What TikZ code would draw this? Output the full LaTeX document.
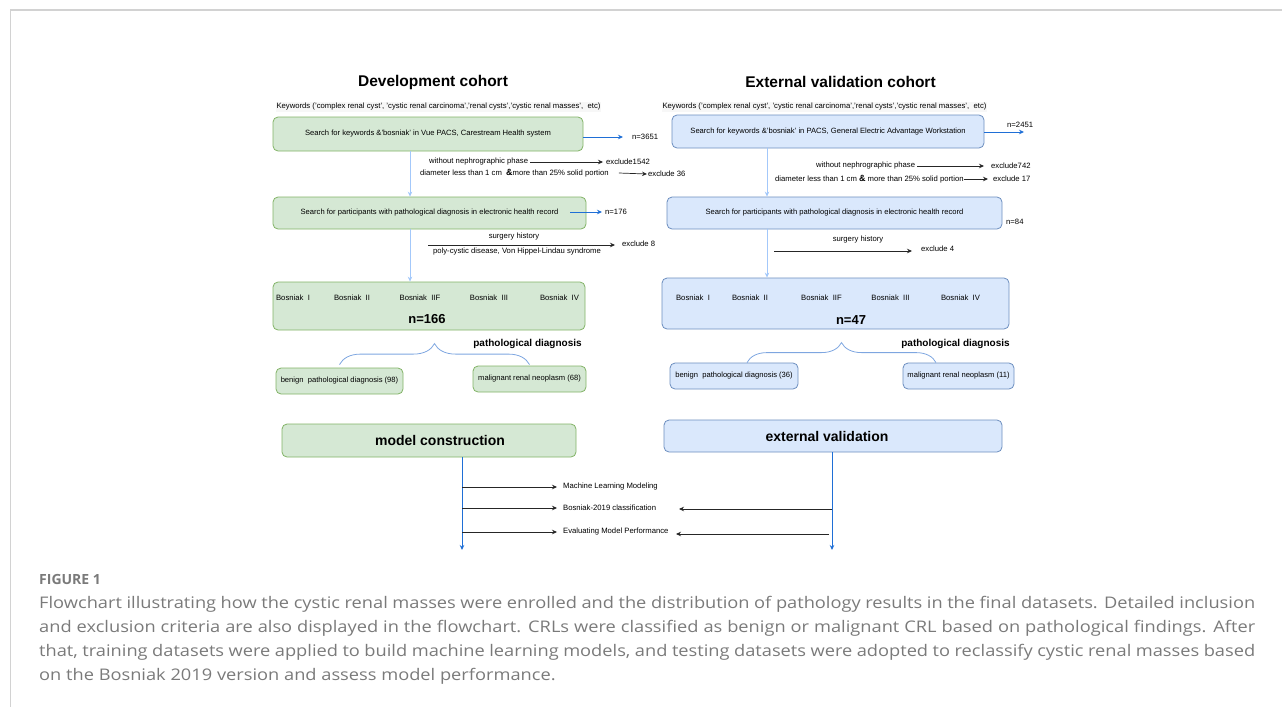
\documentclass[tikz,border=0pt]{standalone}
\usepackage{fontspec}
\setmainfont{Liberation Sans}
\newfontfamily\capfont[FakeStretch=1.14]{Open Sans}
\newfontfamily\capheadfont{Open Sans}
\usetikzlibrary{arrows.meta,decorations.pathreplacing}

\definecolor{devfill}{HTML}{D5E8D4}
\definecolor{devline}{HTML}{82B366}
\definecolor{extfill}{HTML}{DAE8FC}
\definecolor{extline}{HTML}{6C8EBF}
\definecolor{stepblue}{HTML}{A3C8FA}
\definecolor{countblue}{HTML}{1F6FD6}
\definecolor{bracecol}{HTML}{7EA6E0}
\definecolor{capgray}{HTML}{7A7A7A}
\definecolor{framegray}{HTML}{D2D2D2}

\begin{document}
\begin{tikzpicture}[x=1pt,y=-1pt,
    devbox/.style={draw=devline,fill=devfill,rounded corners=5pt,line width=0.8pt,inner sep=0pt,font=\fontsize{7.6}{9}\selectfont},
    extbox/.style={draw=extline,fill=extfill,rounded corners=5pt,line width=0.8pt,inner sep=0pt,font=\fontsize{7.6}{9}\selectfont},
    lbl/.style={inner sep=0pt,font=\fontsize{7.7}{9}\selectfont},
    ttl/.style={inner sep=0pt,font=\fontsize{15.5}{18}\selectfont\bfseries},
    total/.style={inner sep=0pt,font=\fontsize{13}{15}\selectfont\bfseries},
    patho/.style={inner sep=0pt,font=\fontsize{10}{12}\selectfont\bfseries},
    flowarr/.style={draw=stepblue,line width=0.8pt,-{Stealth[length=5pt,width=4.5pt]}},
    countarr/.style={draw=countblue,line width=0.8pt,-{Stealth[length=5pt,width=4.5pt]}},
    exclarr/.style={draw=black!85,line width=0.7pt,-{Stealth[length=5pt,width=4.5pt]}},
    brc/.style={draw=bracecol,line width=0.8pt,decorate}]
    \useasboundingbox (0,0) rectangle (1282,707);

    % frame of the figure
    \draw[framegray,line width=1.6pt] (10,10) -- (1282,10);
    \draw[framegray,line width=0.8pt] (10,10) -- (10,707);

    % Development cohort (left)
    \node[ttl] (devTitle) at (433,82) {Development cohort};
    \node[lbl,fill=black!3,inner sep=1pt,font=\fontsize{7.7}{8}\selectfont] (devKey) at (438.5,107) {Keywords ('complex renal cyst', 'cystic renal carcinoma','renal cysts','cystic renal masses',\ \ etc)};
    \node[devbox,minimum width=310pt,minimum height=34pt] (devA) at (428,134) {Search for keywords \&'bosniak' in Vue PACS, Carestream Health system};
    \node[lbl,anchor=west] (devAn) at (632,137) {n=3651};
    \draw[countarr] (devA.east |- devAn.west) -- ([xshift=-9pt]devAn.west);

    \node[lbl,anchor=west] (devW) at (429,162) {without nephrographic phase};
    \node[lbl,anchor=west] (devWx) at (606,162) {exclude1542};
    \draw[exclarr] ([xshift=2pt]devW.east) -- ([xshift=-3pt]devWx.west);
    \node[lbl,anchor=west] (devDm) at (420,173) {diameter less than 1 cm\ \ {\fontsize{9}{9}\selectfont\bfseries\&}more than 25\% solid portion};
    \node[lbl,anchor=west] (devDx) at (648,174) {exclude 36};
    \draw[exclarr] ([xshift=10pt]devDm.east) -- ([xshift=-1pt]devDx.west);

    \node[devbox,minimum width=313pt,minimum height=32pt] (devB) at (429.5,213) {Search for participants with pathological diagnosis in electronic health record};
    \node[lbl,anchor=west] (devBn) at (605,212) {n=176};
    \draw[countarr] ([xshift=-16pt]devB.east |- devBn.west) -- ([xshift=-3pt]devBn.west);

    \node[lbl] (devSh) at (514,237) {surgery history};
    \node[lbl] (devPc) at (517,252) {poly-cystic disease, Von Hippel-Lindau syndrome};
    \node[lbl,anchor=west] (devSx) at (622,244) {exclude 8};
    \coordinate (devSfrom) at (428,245);
    \draw[exclarr] (devSfrom) -- ([xshift=-7pt]devSfrom -| devSx.west);

    \node[devbox,minimum width=312pt,minimum height=48pt] (devC) at (429,306) {};
    \foreach \bx/\bt [count=\i] in {293/I,352/II,420/IIF,489/III,559.5/IV}
        \node[lbl] (devK\i) at (\bx,298) {Bosniak\ \ \bt};
    \node[total] (devTot) at (427,319) {n=166};

    \coordinate (devAxis) at (410,0);
    \draw[flowarr] (devA.south -| devAxis) -- (devB.north -| devAxis);
    \draw[flowarr] (devB.south -| devAxis) -- (devC.north -| devAxis);

    \node[patho] (devPd) at (527.5,344) {pathological diagnosis};
    \node[devbox,minimum width=127pt,minimum height=26pt] (devBen) at (339.5,381) {benign\ \ pathological diagnosis (98)};
    \node[devbox,minimum width=113pt,minimum height=26pt] (devMal) at (529.5,379) {malignant renal neoplasm (68)};
    \draw[brc,decoration={brace,amplitude=21pt}] ([yshift=3pt]devBen.north) -- ([yshift=3pt]devBen.north -| devMal.north);

    % External validation cohort (right)
    \node[ttl] (extTitle) at (840.5,82) {External validation cohort};
    \node[lbl,fill=black!3,inner sep=1pt,font=\fontsize{7.7}{8}\selectfont] (extKey) at (824.5,107) {Keywords ('complex renal cyst', 'cystic renal carcinoma','renal cysts','cystic renal masses',\ \ etc)};
    \node[extbox,minimum width=312pt,minimum height=33pt] (extA) at (828,131.5) {Search for keywords \&'bosniak' in PACS, General Electric Advantage Workstation};
    \node[lbl,anchor=west] (extAn) at (1007,125) {n=2451};
    \coordinate (extAend) at (1024,132);
    \draw[countarr] (extA.east |- extAend) -- (extAend);

    \node[lbl,anchor=west] (extW) at (816,166) {without nephrographic phase};
    \node[lbl,anchor=west] (extWx) at (991,166) {exclude742};
    \draw[exclarr] ([xshift=2pt]extW.east) -- ([xshift=-7pt]extWx.west);
    \node[lbl,anchor=west] (extDm) at (775,179) {diameter less than 1 cm {\fontsize{9}{9}\selectfont\bfseries\&} more than 25\% solid portion};
    \node[lbl,anchor=west] (extDx) at (993,179) {exclude 17};
    \draw[exclarr] (extDm.east) -- ([xshift=-5pt]extDx.west);

    \node[extbox,minimum width=335pt,minimum height=32pt] (extB) at (834.5,213) {Search for participants with pathological diagnosis in electronic health record};
    \node[lbl,anchor=west] (extBn) at (1006,222) {n=84};

    \node[lbl] (extSh) at (858,240) {surgery history};
    \node[lbl,anchor=west] (extSx) at (921,249) {exclude 4};
    \coordinate (extSfrom) at (774,251);
    \draw[exclarr] (extSfrom) -- ([xshift=-9pt]extSfrom -| extSx.west);

    \node[extbox,minimum width=347pt,minimum height=51pt] (extC) at (835.5,303.5) {};
    \foreach \bx/\bt [count=\i] in {693/I,750/II,821.5/IIF,890.5/III,960.5/IV}
        \node[lbl] (extK\i) at (\bx,298) {Bosniak\ \ \bt};
    \node[total] (extTot) at (851,320) {n=47};

    \coordinate (extAxis) at (767,0);
    \draw[flowarr] (extA.south -| extAxis) -- (extB.north -| extAxis);
    \draw[flowarr] (extB.south -| extAxis) -- (extC.north -| extAxis);

    \node[patho] (extPd) at (955.5,344) {pathological diagnosis};
    \node[extbox,minimum width=128pt,minimum height=26pt] (extBen) at (734,376) {benign\ \ pathological diagnosis (36)};
    \node[extbox,minimum width=111pt,minimum height=26pt] (extMal) at (958.5,376) {malignant renal neoplasm (11)};
    \draw[brc,decoration={brace,amplitude=20pt}] ([xshift=13pt]extBen.north) -- ([xshift=-22.5pt]extMal.north);

    % model construction and external validation
    \node[devbox,minimum width=294pt,minimum height=33pt,font=\fontsize{14}{16}\selectfont\bfseries] (devD) at (429,440.5) {\hspace*{22pt}model construction};
    \node[extbox,minimum width=338pt,minimum height=32pt,font=\fontsize{14}{16}\selectfont\bfseries] (extD) at (833,436) {external validation\hspace*{12pt}};
    \coordinate (devSpine) at (462,550);
    \coordinate (extSpine) at (832,550);
    \draw[countarr] (devD.south -| devSpine) -- (devSpine);
    \draw[countarr] (extD.south -| extSpine) -- (extSpine);

    \node[lbl,anchor=west] (mlm) at (563,487) {Machine Learning Modeling};
    \node[lbl,anchor=west] (bcl) at (563,508) {Bosniak-2019 classification};
    \node[lbl,anchor=west] (emp) at (563,532) {Evaluating Model Performance};
    \draw[exclarr] (devSpine |- mlm.west) -- ([xshift=-6pt]mlm.west);
    \draw[exclarr] (devSpine |- bcl.west) -- ([xshift=-6pt]bcl.west);
    \draw[exclarr] (devSpine |- emp.west) -- ([xshift=-6pt]emp.west);
    \coordinate (bclTip) at (679,509);
    \coordinate (empTip) at (676,534);
    \draw[exclarr] (extSpine |- bclTip) -- (bclTip);
    \draw[exclarr] ([xshift=-3pt]extSpine |- empTip) -- (empTip);

    % caption
    \node[anchor=base west,inner sep=0pt,text=capgray,font=\capheadfont\fontsize{14}{16}\selectfont\bfseries] (capHead) at (39,584) {FIGURE 1};
    \node[anchor=north west,inner sep=0pt,text width=1216pt,align=justify,text=capgray,font=\capfont\fontsize{16}{24}\selectfont] (capText) at (39,596) {Flowchart illustrating how the cystic renal masses were enrolled and the distribution of pathology results in the final datasets. Detailed inclusion\linebreak and exclusion criteria are also displayed in the flowchart. CRLs were classified as benign or malignant CRL based on pathological findings. After\linebreak that, training datasets were applied to build machine learning models, and testing datasets were adopted to reclassify cystic renal masses based\linebreak on the Bosniak 2019 version and assess model performance.};
\end{tikzpicture}
\end{document}
